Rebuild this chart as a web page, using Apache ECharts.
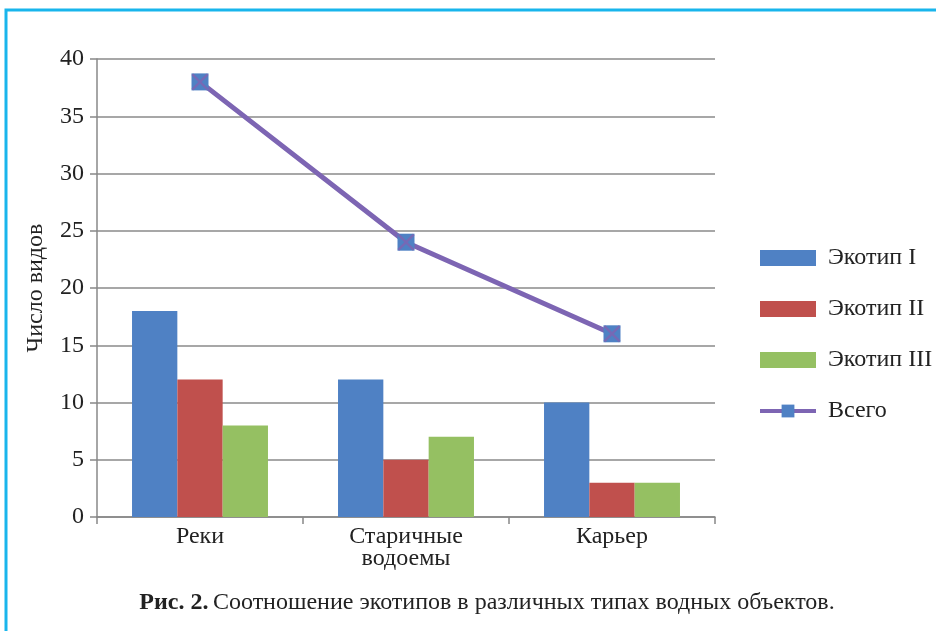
<!DOCTYPE html>
<html><head><meta charset="utf-8">
<script src="https://cdn.jsdelivr.net/npm/echarts@6/dist/echarts.min.js"></script>
<style>html,body{margin:0;padding:0;background:#fff}#c{width:936px;height:631px}</style>
</head><body><div id="c"></div>
<script>
const categories = ['Реки', 'Старичные\nводоемы', 'Карьер'];
const ecotype1 = [18, 12, 10];
const ecotype2 = [12, 5, 3];
const ecotype3 = [8, 7, 3];
const total = [38, 24, 16];
const yTicks = {min: 0, max: 40, interval: 5};

const font = '"Liberation Serif", "DejaVu Serif", serif';
const fs = 24;
const chart = echarts.init(document.getElementById('c'));
chart.setOption({
  animation: false,
  textStyle: {fontFamily: font},
  graphic: [{type: 'rect', shape: {x: 6, y: 10, width: 1200, height: 1200},
    style: {fill: 'none', stroke: '#19b5ec', lineWidth: 3}, silent: true}],
  title: {
    text: '{b|Рис. 2.} {r|Соотношение экотипов в различных типах водных объектов.}',
    left: 482, top: 586, textAlign: 'center',
    textStyle: {fontWeight: 'normal', rich: {
      b: {fontFamily: font, fontSize: fs, fontWeight: 'bold', color: '#222'},
      r: {fontFamily: font, fontSize: fs, fontWeight: 'normal', color: '#222'}
    }}
  },
  legend: {
    orient: 'vertical', left: 758, top: 246, padding: 0,
    itemWidth: 56, itemHeight: 16, itemGap: 27,
    data: [{name: 'Экотип I', icon: 'rect', itemStyle: {}},
           {name: 'Экотип II', icon: 'rect'},
           {name: 'Экотип III', icon: 'rect'},
           {name: 'Всего', lineStyle: {width: 4}}],
    textStyle: {fontFamily: font, fontSize: fs, color: '#222', padding: [0, 0, 0, 7]}
  },
  grid: {left: 97, right: 221, top: 59, bottom: 114, containLabel: false},
  xAxis: {
    type: 'category', data: categories,
    axisLine: {lineStyle: {color: '#888', width: 1.5}},
    axisTick: {show: true, length: 7, lineStyle: {color: '#888', width: 1.5}},
    axisLabel: {fontFamily: font, fontSize: fs, color: '#222', margin: 9, lineHeight: 22}
  },
  yAxis: {
    type: 'value', min: yTicks.min, max: yTicks.max, interval: yTicks.interval,
    name: 'Число видов', nameLocation: 'middle', nameGap: 49,
    nameTextStyle: {fontFamily: font, fontSize: fs, color: '#222'},
    axisLine: {show: true, lineStyle: {color: '#888', width: 1.5}},
    axisTick: {show: true, length: 7, lineStyle: {color: '#888', width: 1.5}},
    splitLine: {lineStyle: {color: '#8a8a8a', width: 1.5}},
    axisLabel: {fontFamily: font, fontSize: fs, color: '#222', margin: 13}
  },
  series: [
    {name: 'Экотип I', type: 'bar', data: ecotype1, barGap: '0%', barCategoryGap: '34%', itemStyle: {color: '#4f81c4'}},
    {name: 'Экотип II', type: 'bar', data: ecotype2, itemStyle: {color: '#c0504d'}},
    {name: 'Экотип III', type: 'bar', data: ecotype3, itemStyle: {color: '#95c062'}},
    {name: 'Всего', type: 'line', data: total, symbol: 'rect', symbolSize: 17, z: 10,
      lineStyle: {color: '#7d65b3', width: 5}, itemStyle: {color: '#4f81c4'}},
    {name: 'Всего X', type: 'line', data: total, z: 11, silent: true,
      lineStyle: {width: 0, opacity: 0}, showAllSymbol: true,
      symbol: 'path://M0,1L1,0L5,4L9,0L10,1L6,5L10,9L9,10L5,6L1,10L0,9L4,5Z', symbolSize: 17,
      itemStyle: {color: '#7d65b3', opacity: 0.85}}
  ]
});
</script></body></html>
